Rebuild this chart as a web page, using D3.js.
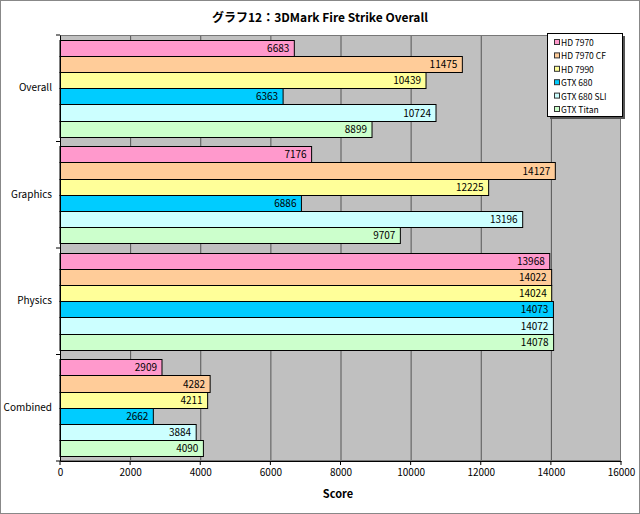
<!DOCTYPE html>
<html><head><meta charset="utf-8">
<script src="https://cdn.jsdelivr.net/npm/d3@7"></script>
<style>body{margin:0;background:#fff}svg{display:block}text{font-family:"Noto Sans CJK JP","Liberation Sans",sans-serif}</style>
</head><body>
<svg id="c" width="640" height="514"></svg>
<script>
const categories = ["Overall","Graphics","Physics","Combined"];
const seriesNames = ["HD 7970","HD 7970 CF","HD 7990","GTX 680","GTX 680 SLI","GTX Titan"];
const seriesColors = ["#ff99cc","#ffcc99","#ffff99","#00ccff","#ccffff","#ccffcc"];
const hd7970 = [6683,7176,13968,2909];
const hd7970cf = [11475,14127,14022,4282];
const hd7990 = [10439,12225,14024,4211];
const gtx680 = [6363,6886,14073,2662];
const gtx680sli = [10724,13196,14072,3884];
const gtxTitan = [8899,9707,14078,4090];
const xTicks = [0,2000,4000,6000,8000,10000,12000,14000,16000];
const seriesValues = [hd7970,hd7970cf,hd7990,gtx680,gtx680sli,gtxTitan];

const svg = d3.select("#c");
svg.append("rect").attr("x",0.5).attr("y",0.5).attr("width",639).attr("height",513).attr("fill","#fff").attr("stroke","#888");

const L=60,R=621,T=35,B=461;
const x = d3.scaleLinear().domain([0,16000]).range([L,R]);
const y0 = d3.scaleBand().domain(categories).range([T,B]).paddingInner(0).paddingOuter(0);
const y1 = d3.scaleBand().domain(seriesNames).range([0,y0.bandwidth()]).paddingInner(0).paddingOuter(0.3);

svg.append("rect").attr("x",L).attr("y",T).attr("width",R-L).attr("height",B-T).attr("fill","#c0c0c0");
// grid
svg.append("g").selectAll("line").data(xTicks.slice(1,-1)).join("line")
  .attr("x1",d=>x(d)+0.5).attr("x2",d=>x(d)+0.5).attr("y1",T).attr("y2",B)
  .attr("stroke","#555").attr("stroke-width",1);
svg.append("rect").attr("x",L+0.5).attr("y",T+0.5).attr("width",R-L-1).attr("height",B-T-1).attr("fill","none").attr("stroke","#777");

// bars
const g = svg.append("g");
categories.forEach((c,ci)=>{
  seriesNames.forEach((s,si)=>{
    const v = seriesValues[si][ci];
    const yy = Math.round(y0(c)+y1(s));
    const yn = Math.round(y0(c)+y1(s)+y1.bandwidth());
    g.append("rect").attr("x",x(0)).attr("y",yy+0.5)
      .attr("width",x(v)-x(0)).attr("height",yn-yy)
      .attr("fill",seriesColors[si]).attr("stroke","#000").attr("stroke-width",1);
    g.append("text").attr("x",x(v)-5).attr("y",(yy+yn)/2+4)
      .attr("text-anchor","end").attr("font-size",10).attr("fill","#000").text(v);
  });
});

// axes
const xa = svg.append("g").attr("transform",`translate(0,${B})`)
  .call(d3.axisBottom(x).tickValues(xTicks).tickSize(0).tickPadding(8).tickFormat(d3.format("d")));
xa.select(".domain").attr("stroke","#000");
xa.selectAll("text").attr("font-size",10).attr("fill","#000").style("font-family",'"Noto Sans CJK JP",sans-serif');

const ya = svg.append("g").attr("transform",`translate(${L},0)`)
  .call(d3.axisLeft(y0).tickSize(0).tickPadding(8));
ya.select(".domain").attr("stroke","#000");
ya.selectAll("text").attr("font-size",10).attr("fill","#000").style("font-family",'"Noto Sans CJK JP",sans-serif');
// minor ticks between categories
svg.append("g").selectAll("line").data(d3.range(categories.length+1)).join("line")
  .attr("x1",L-4).attr("x2",L).attr("y1",i=>T+i*y0.bandwidth()).attr("y2",i=>T+i*y0.bandwidth()).attr("stroke","#000");
svg.append("g").selectAll("line").data(xTicks).join("line")
  .attr("x1",d=>x(d)).attr("x2",d=>x(d)).attr("y1",B).attr("y2",B+4).attr("stroke","#000");

// title
svg.append("text").attr("x",320).attr("y",22).attr("text-anchor","middle").attr("font-size",12).attr("font-weight","bold")
  .text("グラフ12：3DMark Fire Strike Overall");
svg.append("text").attr("x",338).attr("y",498).attr("text-anchor","middle").attr("font-size",11).attr("font-weight","bold").text("Score");

// legend
const lg = svg.append("g");
lg.append("rect").attr("x",550).attr("y",36).attr("width",75).attr("height",83).attr("fill","#555");
lg.append("rect").attr("x",547.5).attr("y",33.5).attr("width",75).attr("height",83).attr("fill","#fff").attr("stroke","#000");
seriesNames.forEach((s,i)=>{
  const yy = 43+i*13.4;
  lg.append("rect").attr("x",554.5).attr("y",yy-3.5).attr("width",5).attr("height",5).attr("fill",seriesColors[i]).attr("stroke","#333");
  lg.append("text").attr("x",561).attr("y",yy+3).attr("font-size",8.5).attr("fill","#000").text(s);
});
</script>
</body></html>
